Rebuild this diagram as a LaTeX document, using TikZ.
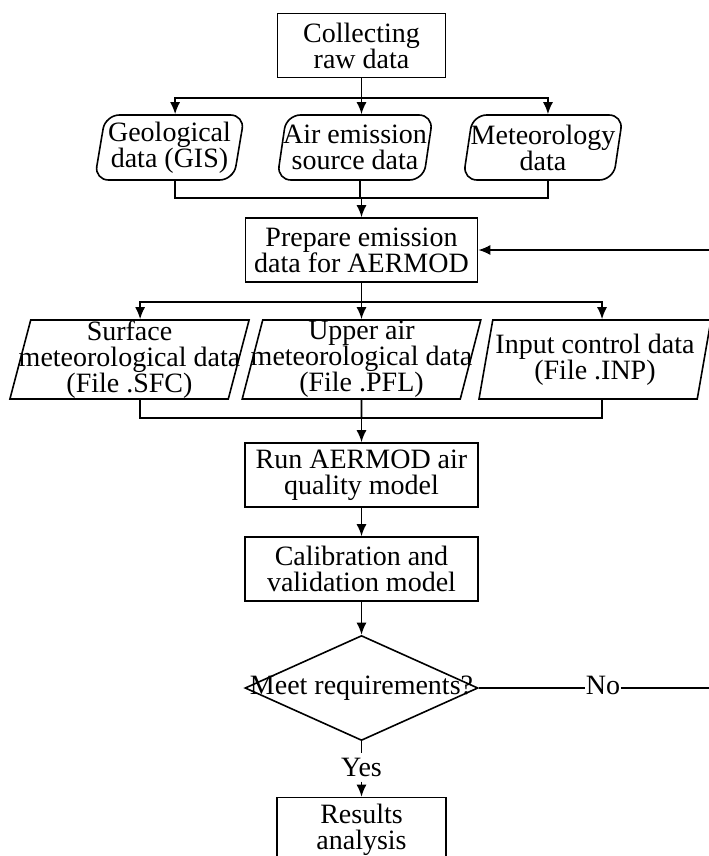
\documentclass[tikz,border=0pt]{standalone}
\usepackage{fontspec}
\setmainfont{Liberation Serif}
\usetikzlibrary{shapes.geometric,arrows.meta}

\begin{document}
\begin{tikzpicture}[x=0.5pt,y=-0.5pt,line width=0.8pt,
    >={Latex[length=6pt,width=5pt]},
    every node/.style={font=\fontsize{14}{13}\selectfont,align=center},
    process/.style={draw,rectangle,inner sep=1pt,minimum width=#1,minimum height=32pt},
    source/.style={draw,trapezium,trapezium left angle=78,trapezium right angle=102,
        trapezium stretches body,rounded corners=7pt,inner xsep=-2pt,inner ysep=0pt,
        minimum width=#1,minimum height=32.5pt},
    infile/.style={draw,trapezium,trapezium left angle=75,trapezium right angle=105,
        trapezium stretches body,inner xsep=-6pt,inner ysep=0pt,
        minimum width=116pt,minimum height=39.5pt},
    decision/.style={draw,diamond,aspect=2.2,inner xsep=-14pt,inner ysep=0pt,
        minimum width=116.5pt,minimum height=52.5pt},
    answer/.style={inner xsep=0pt,inner ysep=2pt}]

    \useasboundingbox (0,0) rectangle (708,856);

    \node[process=84pt] (raw) at (361.5,45.5) {Collecting\\raw data};

    \node[source=75pt] (geo) at (169.5,147.5) {Geological\\data (GIS)};
    \node[source=78pt] (air) at (355,147.5) {Air emission\\source data};
    \node[source=80pt] (met) at (543,147.5) {Meteorology\\data};

    \node[process=116pt] (prep) at (361.5,250) {Prepare emission\\data for AERMOD};

    \node[infile] (surf) at (129.5,359.5) {Surface\\meteorological data\\(File .SFC)};
    \node[infile] (upper) at (361.5,359.5) {Upper air\\meteorological data\\(File .PFL)};
    \node[infile] (inp) at (595,359.5) {Input control data\\(File .INP)};

    \node[process=116.5pt] (run) at (361.5,475) {Run AERMOD air\\quality model};
    \node[process=116.5pt] (cal) at (361.5,569) {Calibration and\\validation model};

    \node[decision] (meet) at (361.5,688) {Meet requirements?};
    \node[answer] (no) at (603,685.5) {No};
    \node[answer] (yes) at (361.5,767.5) {Yes};

    \node[process=84.5pt] (res) at (361.5,829.5) {Results\\analysis};

    % raw data to the three sources
    \draw (raw.south) -- ++(0,20) coordinate (s1);
    \draw[->] (s1) -- (s1 |- air.north);
    \draw[->] (s1) -| (geo.top side);
    \draw[->] (s1) -| (met.top side);

    \coordinate (j1) at (361.5,198);
    \draw (geo.top side |- geo.south) |- (j1) -| (met.top side |- met.south);
    \draw (air.top side |- air.south) -- (air.top side |- j1);
    \draw[->] (j1) -- (prep.north);

    % prepared data to the input files
    \draw (prep.south) -- ++(0,19) coordinate (s2);
    \draw[->] (s2) -- (s2 |- upper.north);
    \draw[->] (s2) -| (surf.top side);
    \draw[->] (s2) -| (inp.top side);

    \coordinate (j2) at (361.5,418);
    \draw (surf.top side |- surf.south) |- (j2) -| (inp.top side |- inp.south);
    \draw (upper.south) -- (j2);
    \draw[->] (j2) -- (run.north);

    \draw[->] (run) -- (cal);
    \draw[->] (cal) -- (meet);
    \draw (meet) -- (yes);
    \draw[->] (yes) -- (res);

    % back to the preparation step
    \draw (meet.east) -- (no.west |- meet.east);
    \draw[->] (no.east |- meet.east) -- ++(140,0) |- (prep.east);
\end{tikzpicture}
\end{document}
